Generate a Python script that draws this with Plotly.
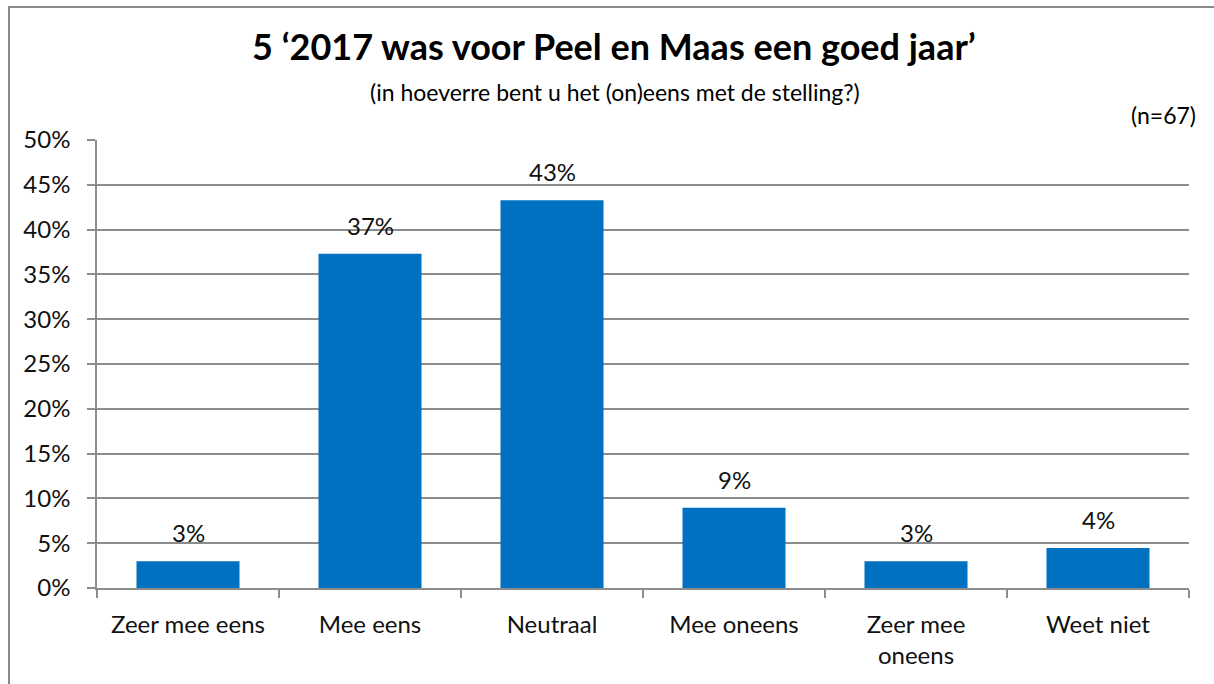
import plotly.graph_objects as go

categories = ["Zeer mee eens", "Mee eens", "Neutraal", "Mee oneens", "Zeer mee<br>oneens", "Weet niet"]
counts = [2, 25, 29, 6, 2, 3]
n_total = 67
values = [c / n_total for c in counts]
labels = [f"{round(v*100)}%" for v in values]
tick_vals = [0, 0.05, 0.10, 0.15, 0.20, 0.25, 0.30, 0.35, 0.40, 0.45, 0.50]
tick_text = ["0%", "5%", "10%", "15%", "20%", "25%", "30%", "35%", "40%", "45%", "50%"]

FONT = "Lato"
GRID = "#8c8c8c"

fig = go.Figure(go.Bar(
    x=categories, y=values,
    marker=dict(color="#0070c0", line=dict(width=0)),
    hoverinfo="skip",
))

for c, v, t in zip(categories, values, labels):
    fig.add_annotation(x=c, y=v, text=t, showarrow=False, yanchor="bottom",
                       yshift=12, font=dict(family=FONT, size=24, color="#111111"))

W, H = 1214, 684
L, R, T, B = 97, 25, 140, 96
fig.update_layout(
    width=W, height=H,
    margin=dict(l=L, r=R, t=T, b=B, pad=0),
    paper_bgcolor="white", plot_bgcolor="white",
    bargap=0.434, showlegend=False,
    font=dict(family=FONT, size=24, color="#111111"),
    xaxis=dict(showline=True, linecolor=GRID, linewidth=1.5, ticks="outside",
               tickson="boundaries", ticklen=8, tickcolor=GRID, tickwidth=1.5,
               ticklabelstandoff=14,
               tickfont=dict(family=FONT, size=24, color="#111111"), showgrid=False),
    yaxis=dict(range=[0, 0.5], tickvals=tick_vals, ticktext=tick_text,
               showline=True, linecolor=GRID, linewidth=1.5, ticks="outside",
               ticklen=8, tickcolor=GRID, tickwidth=1.5, ticklabelstandoff=12,
               showgrid=True, gridcolor=GRID, gridwidth=1.5, zeroline=False,
               tickfont=dict(family=FONT, size=24, color="#111111")),
)

pw = W - L - R
ph = H - T - B
def px(x):
    return (x - L) / pw
def py(y):
    return (H - B - y) / ph

fig.add_shape(type="rect", xref="paper", yref="paper",
              x0=px(9), x1=px(1230), y0=py(700), y1=py(7),
              line=dict(color="#8a8a8a", width=2), fillcolor="rgba(0,0,0,0)", layer="below")

fig.add_annotation(text="<b>5 ‘2017 was voor Peel en Maas een goed jaar’</b>",
                   xref="paper", yref="paper", x=px(614), y=py(46), showarrow=False,
                   xanchor="center", yanchor="middle",
                   font=dict(family=FONT, size=36, color="#000000"))
fig.add_annotation(text="(in hoeverre bent u het (on)eens met de stelling?)",
                   xref="paper", yref="paper", x=px(615), y=py(92), showarrow=False,
                   xanchor="center", yanchor="middle",
                   font=dict(family=FONT, size=23, color="#000000"))
fig.add_annotation(text="(n=67)",
                   xref="paper", yref="paper", x=px(1198), y=py(115), showarrow=False,
                   xanchor="right", yanchor="middle",
                   font=dict(family=FONT, size=23, color="#000000"))

fig.write_html("out.html", config={"displayModeBar": False},
               post_script="document.body.style.margin='0';")
